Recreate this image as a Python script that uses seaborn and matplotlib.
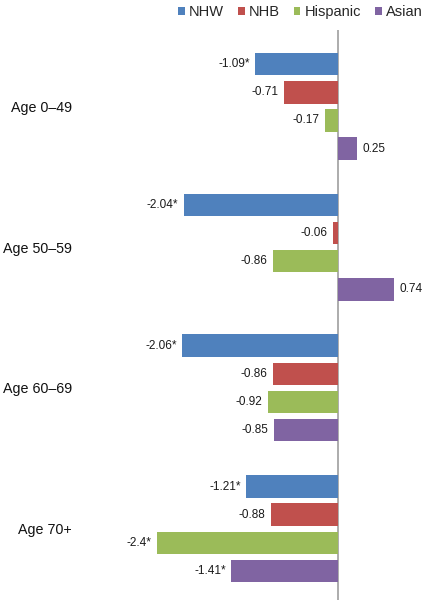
import matplotlib
matplotlib.use("Agg")
import matplotlib.pyplot as plt
import seaborn as sns
import pandas as pd
from matplotlib.patches import Patch

ages = ["Age 0\u201349", "Age 50\u201359", "Age 60\u201369", "Age 70+"]
groups = ["NHW", "NHB", "Hispanic", "Asian"]
nhw = [-1.09, -2.04, -2.06, -1.21]
nhb = [-0.71, -0.06, -0.86, -0.88]
hispanic = [-0.17, -0.86, -0.92, -2.4]
asian = [0.25, 0.74, -0.85, -1.41]
nhw_sig = [True, True, True, True]
nhb_sig = [False, False, False, False]
hispanic_sig = [False, False, False, True]
asian_sig = [False, False, False, True]
colors = ["#4F81BD", "#C0504D", "#9BBB59", "#8064A2"]

values = [nhw, nhb, hispanic, asian]
sigs = [nhw_sig, nhb_sig, hispanic_sig, asian_sig]

rows = []
for g, vals in zip(groups, values):
    for a, v in zip(ages, vals):
        rows.append({"age": a, "group": g, "value": v})
df = pd.DataFrame(rows)

sns.set_style("white")
plt.rcParams["font.family"] = ["Liberation Sans", "DejaVu Sans"]

fig = plt.figure(figsize=(4.24, 6.0), dpi=100)
ax = fig.add_axes([80 / 424, 0.0, 344 / 424, 0.95])

sns.barplot(data=df, y="age", x="value", hue="group", order=ages,
            hue_order=groups, palette=colors, orient="h", width=0.8,
            gap=0.2, linewidth=0, saturation=1, legend=False, ax=ax)

for cont, vals, sg in zip(ax.containers, values, sigs):
    labels = [f"{v:g}" + ("*" if s else "") for v, s in zip(vals, sg)]
    ax.bar_label(cont, labels=labels, padding=4, fontsize=8.5, color="#1a1a1a")

ax.axvline(0, color="#a6a6a6", lw=1.3, zorder=0.5)
ax.set_xlim(-(337.7 - 80) / 75.5, (424 - 337.7) / 75.5)
ax.set_ylim(3.506, -0.542)
ax.set_xlabel("")
ax.set_ylabel("")
ax.set_xticks([])
ax.tick_params(axis="y", length=0, pad=6, labelsize=10.3, labelcolor="#111111")
for s in ax.spines.values():
    s.set_visible(False)
ax.grid(False)

handles = [Patch(facecolor=c, edgecolor="none", label=g) for c, g in zip(colors, groups)]
fig.legend(handles=handles, loc="center right", bbox_to_anchor=(0.997, 1 - 12 / 600),
           ncol=4, frameon=False, fontsize=10.5, handlelength=0.45, handleheight=0.45,
           handletextpad=0.3, columnspacing=0.95, borderaxespad=0, borderpad=0)

fig.savefig("out.png", dpi=100)
